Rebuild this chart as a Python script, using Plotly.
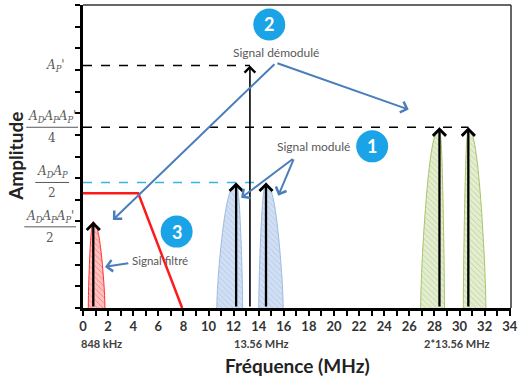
import plotly.graph_objects as go

# ---------------- data ----------------
x_ticks = list(range(0, 35))
x_tick_text = [f"<b>{v}</b>" if v % 2 == 0 else "" for v in x_ticks]
y_ticks = list(range(0, 15))

lvl_AP = 11.2          # A_P'
lvl_quarter = 8.35     # A_D A_P A_P' / 4
lvl_half_mod = 5.8     # A_D A_P / 2
lvl_half_filt = 3.75   # A_D A_P A_P' / 2 (label)

# filter response (x, y)
filter_x = [0, 4.4, 7.9]
filter_y = [5.3, 5.3, 0]

# bumps: (left base, peak x, right base, peak height)
bump_names = ["filtre", "mod1", "mod2", "dem1", "dem2"]
bump_left = [0.42, 10.66, 14.0, 26.9, 30.3]
bump_peak = [0.82, 12.2, 14.58, 28.4, 30.7]
bump_right = [1.75, 12.72, 15.95, 28.8, 32.1]
bump_height = [4.0, 5.8, 5.8, 8.35, 8.35]

# bump profile: height fraction vs distance fraction from peak
prof_h = [0, 0.1, 0.3, 0.5, 0.7, 0.85, 0.95, 1.0]
prof_d = [1, 0.98, 0.9, 0.78, 0.62, 0.45, 0.25, 0]

# demodulated line
dem_x = 13.3

# colours
bump_fill = ["rgba(255,185,185,0.9)", "rgba(205,221,243,0.95)", "rgba(205,221,243,0.95)",
             "rgba(225,236,205,0.95)", "rgba(225,236,205,0.95)"]
bump_line = ["#FF3030", "#9DBBE2", "#9DBBE2", "#A8C46A", "#A8C46A"]
bump_hatch = ["#FF2A2A", "#8DAAD4", "#8DAAD4", "#97B557", "#97B557"]

ARROW_BLUE = "#4A7EBB"
CIRCLE_BLUE = "#1AA3E6"
GRAY = "#595959"

fig = go.Figure()

# bumps
for i in range(len(bump_names)):
    L, P, R, H = bump_left[i], bump_peak[i], bump_right[i], bump_height[i]
    xs, ys = [], []
    for h, d in zip(prof_h, prof_d):
        xs.append(P - (P - L) * d)
        ys.append(H * h)
    for h, d in zip(reversed(prof_h), reversed(prof_d)):
        xs.append(P + (R - P) * d)
        ys.append(H * h)
    fig.add_trace(go.Scatter(
        x=xs, y=ys, mode="lines", fill="toself", line_shape="spline",
        line=dict(color=bump_line[i], width=1),
        fillcolor=bump_fill[i],
        fillpattern=dict(shape="\\", fgcolor=bump_hatch[i], bgcolor=bump_fill[i],
                         size=4, solidity=0.2),
        showlegend=False, hoverinfo="skip"))

# filter
fig.add_trace(go.Scatter(x=filter_x, y=filter_y, mode="lines",
                         line=dict(color="#FF1A1A", width=2.5),
                         showlegend=False, hoverinfo="skip"))

# dashed levels
fig.add_trace(go.Scatter(x=[0, dem_x], y=[lvl_AP, lvl_AP], mode="lines",
                         line=dict(color="black", width=1.5, dash="dash"), showlegend=False))
fig.add_trace(go.Scatter(x=[0, bump_peak[4]], y=[lvl_quarter, lvl_quarter], mode="lines",
                         line=dict(color="black", width=1.5, dash="dash"), showlegend=False))
fig.add_trace(go.Scatter(x=[0, 14.0], y=[lvl_half_mod, lvl_half_mod], mode="lines",
                         line=dict(color="#33B5E8", width=1.5, dash="dash"), showlegend=False))

annotations = []
shapes = []

# black vertical arrows
for i in range(len(bump_names)):
    annotations.append(dict(x=bump_peak[i], y=bump_height[i], ax=bump_peak[i], ay=0,
                            xref="x", yref="y", axref="x", ayref="y", text="",
                            showarrow=True, arrowhead=4, arrowsize=1.1, arrowwidth=2.3,
                            arrowcolor="black"))
annotations.append(dict(x=dem_x, y=lvl_AP, ax=dem_x, ay=0, xref="x", yref="y",
                        axref="x", ayref="y", text="", showarrow=True, arrowhead=4,
                        arrowsize=1.3, arrowwidth=1.6, arrowcolor="black"))

# blue pointer arrows (head, tail)
blue_arrows = [
    ((2.38, 4.07), (15.37, 11.33)),
    ((25.95, 9.17), (15.37, 11.33)),
    ((12.6, 5.09), (16.83, 6.94)),
    ((15.56, 5.19), (16.83, 6.94)),
    ((1.75, 1.9), (3.73, 2.08)),
]
for (hx, hy), (tx, ty) in blue_arrows:
    annotations.append(dict(x=hx, y=hy, ax=tx, ay=ty, xref="x", yref="y",
                            axref="x", ayref="y", text="", showarrow=True,
                            arrowhead=4, arrowsize=1.1, arrowwidth=2,
                            arrowcolor=ARROW_BLUE))

# text labels
txt_font = dict(family="Lato, Open Sans, sans-serif", size=12, color=GRAY)
annotations += [
    dict(x=15.4, y=11.8, text="Signal démodulé", showarrow=False, font=txt_font),
    dict(x=18.4, y=7.46, text="Signal modulé", showarrow=False, font=txt_font),
    dict(x=6.1, y=2.2, text="Signal filtré", showarrow=False,
         font=dict(family="Lato, Open Sans, sans-serif", size=11.5, color=GRAY)),
]

# numbered circles
circles = [("1", 23.04, 7.47), ("2", 14.84, 13.1), ("3", 7.46, 3.53)]
for label, cx, cy in circles:
    shapes.append(dict(type="circle", xref="x", yref="y", xsizemode="pixel",
                       ysizemode="pixel", xanchor=cx, yanchor=cy,
                       x0=-16, x1=16, y0=-16, y1=16,
                       fillcolor=CIRCLE_BLUE, line=dict(width=0)))
    annotations.append(dict(x=cx, y=cy, text=f"<b>{label}</b>", showarrow=False,
                            font=dict(family="Lato, sans-serif", size=18, color="white")))

# y-axis math labels
mfont = dict(family="DejaVu Serif, serif", size=12, color=GRAY)
annotations.append(dict(x=(55 - 83) / 430, xref="paper", xanchor="center",
                        y=lvl_AP, yref="y",
                        text="<i>A<sub>P</sub>'</i>", showarrow=False, font=mfont))
fractions = [
    ("<i>A<sub>D</sub>A<sub>P</sub>A<sub>P</sub>'</i>", "4", lvl_quarter, 52, 52),
    ("<i>A<sub>D</sub>A<sub>P</sub></i>", "2", lvl_half_mod, 52, 34),
    ("<i>A<sub>D</sub>A<sub>P</sub>A<sub>P</sub>'</i>", "2", lvl_half_filt, 50, 52),
]
for num, den, yv, cpx, wpx in fractions:
    xc = (cpx - 83) / 430
    annotations.append(dict(x=xc, xref="paper", xanchor="center", y=yv, yref="y",
                            text=num, showarrow=False, yshift=10, font=mfont))
    annotations.append(dict(x=xc, xref="paper", xanchor="center", y=yv, yref="y",
                            text=den, showarrow=False, yshift=-11, font=mfont))
    shapes.append(dict(type="line", xref="paper", yref="y",
                       x0=(cpx - wpx / 2 - 83) / 430, x1=(cpx + wpx / 2 - 83) / 430,
                       y0=yv, y1=yv, line=dict(color=GRAY, width=1)))

# sub x labels
sub_font = dict(family="Lato, Open Sans, sans-serif", size=11, color="#404040")
for txt, xv in [("<b>848 kHz</b>", 1.48), ("<b>13.56 MHz</b>", 14.2), ("<b>2*13.56 MHz</b>", 29.8)]:
    annotations.append(dict(x=xv, xref="x", xanchor="center", y=0, yref="paper",
                            yanchor="middle", yshift=-35, text=txt, showarrow=False,
                            font=sub_font))

# axis titles
annotations.append(dict(x=0.5, xref="paper", xanchor="center", y=0, yref="paper",
                        yanchor="middle", yshift=-57,
                        text="<b>Fréquence (MHz)</b>", showarrow=False,
                        font=dict(family="Lato, Open Sans, sans-serif", size=19, color="#222")))
annotations.append(dict(x=(15 - 83) / 430, xref="paper", xanchor="center",
                        y=0.5, yref="paper", yanchor="middle",
                        text="<b>Amplitude</b>", textangle=-90, showarrow=False,
                        font=dict(family="Lato, Open Sans, sans-serif", size=19, color="#222")))

# top/right frame
shapes.append(dict(type="line", xref="paper", yref="paper", x0=0, x1=1, y0=1, y1=1,
                   line=dict(color="#333", width=1.5)))
shapes.append(dict(type="line", xref="paper", yref="paper", x0=1, x1=1, y0=0, y1=1,
                   line=dict(color="#333", width=1.5)))

fig.update_layout(
    width=523, height=380,
    margin=dict(l=83, r=10, t=5, b=72),
    plot_bgcolor="white", paper_bgcolor="white",
    annotations=annotations, shapes=shapes,
    xaxis=dict(range=[0, 34.1], tickvals=x_ticks, ticktext=x_tick_text,
               ticks="outside", ticklen=5, tickwidth=2, tickcolor="black",
               showline=True, linecolor="black", linewidth=2.5, showgrid=False,
               zeroline=False,
               tickfont=dict(family="Lato, Open Sans, sans-serif", size=13, color="#333")),
    yaxis=dict(range=[0, 14], tickvals=y_ticks, showticklabels=False,
               ticks="outside", ticklen=5, tickwidth=2, tickcolor="black",
               showline=True, linecolor="black", linewidth=2.5, showgrid=False,
               zeroline=False),
)

fig.write_html("out.html", config={"displayModeBar": False},
               post_script="document.body.style.margin='0';")
